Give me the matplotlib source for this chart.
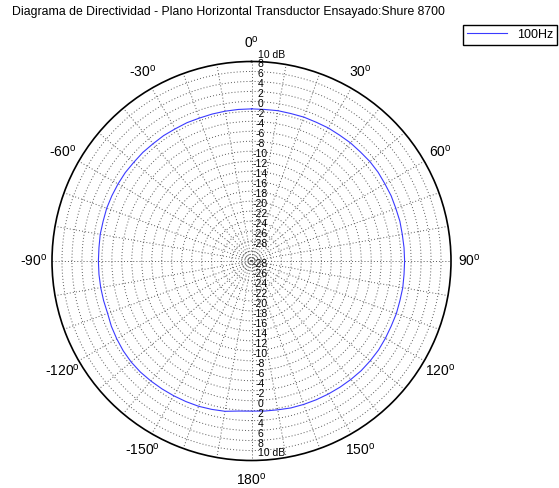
import numpy as np
import matplotlib
matplotlib.use('Agg')
import matplotlib.pyplot as plt
from matplotlib.transforms import offset_copy

plt.rcParams['font.family'] = ['Liberation Sans', 'DejaVu Sans']
plt.rcParams['mathtext.fontset'] = 'custom'
plt.rcParams['mathtext.rm'] = 'Liberation Sans'
plt.rcParams['mathtext.it'] = 'Liberation Sans:italic'

# measured response, one value every 5 degrees (0 = front, clockwise)
angles_deg = np.arange(0, 360, 5)
level_db = [0.5, 0.5, 0.6, 0.6, 0.7, 0.7, 0.8, 0.8, 0.9, 0.9,
            1.0, 1.0, 0.9, 0.9, 0.8, 0.8, 0.7, 0.7, 0.7, 0.7,
            0.8, 0.8, 0.9, 0.9, 1.0, 1.1, 1.1, 1.1, 1.0, 0.9,
            0.8, 0.7, 0.6, 0.5, 0.3, 0.2, 0.1, 0.2, 0.6, 0.8,
            1.0, 1.1, 1.2, 1.3, 1.4, 1.5, 1.5, 1.4, 1.2, 1.0,
            0.7, 0.7, 0.7, 0.7, 0.7, 0.7, 0.8, 0.8, 0.9, 0.9,
            0.9, 0.9, 0.8, 0.8, 0.7, 0.7, 0.6, 0.6, 0.5, 0.5,
            0.5, 0.5]
series_label = '100Hz'

ring_values = list(range(-28, 10, 2))
label_values = list(range(10, -30, -2))
spoke_angles = np.arange(0, 360, 10)
angle_labels = {0: '0', 30: '30', 60: '60', 90: '90', 120: '120', 150: '150',
                180: '180', 210: '-150', 240: '-120', 270: '-90', 300: '-60', 330: '-30'}

fig = plt.figure(figsize=(5.59, 4.88), dpi=100)
ax = fig.add_axes([52 / 559, 27.5 / 488, 399 / 559, 399 / 488], projection='polar')
ax.set_theta_zero_location('N')
ax.set_theta_direction(-1)
ax.set_ylim(-30, 10)

th = np.deg2rad(np.append(angles_deg, angles_deg[0]))
r = np.append(level_db, level_db[0])
ax.plot(th, r, color='#3a3aff', lw=0.8, label=series_label)

ax.set_yticks(ring_values)
ax.set_yticklabels([])
ax.set_thetagrids(spoke_angles,
                  [angle_labels[a] + r'$^{\mathrm{o}}$' if a in angle_labels else '' for a in spoke_angles],
                  fontsize=10)
ax.tick_params(axis='x', pad=3)
ax.grid(True, linestyle=(0, (1, 2.2)), color='0.35', linewidth=0.7)
ax.spines['polar'].set_linewidth(1.2)
ax.spines['polar'].set_color('black')

# dB labels along the 0 and 180 degree spokes
tr = offset_copy(ax.transData, fig=fig, x=9, y=7, units='dots')
tr_l = offset_copy(ax.transData, fig=fig, x=6, y=7, units='dots')
for v in label_values:
    for a in (0, np.pi):
        if v == 10:
            ax.text(a, v, '10 dB', transform=tr_l, fontsize=7.5, ha='left', va='center', clip_on=False)
        else:
            ax.text(a, v, str(v), transform=tr, fontsize=7.5, ha='center', va='center', clip_on=False)

fig.text(12 / 559, 1 - 12 / 488,
         'Diagrama de Directividad - Plano Horizontal Transductor Ensayado:Shure 8700',
         fontsize=8.8, ha='left', va='center')

fig.legend(loc='upper right', bbox_to_anchor=(557 / 559, 1 - 25 / 488), fontsize=9,
           fancybox=False, edgecolor='black', framealpha=1, handlelength=3.2,
           borderpad=0.3, borderaxespad=0)

fig.savefig('out.png', dpi=100)
